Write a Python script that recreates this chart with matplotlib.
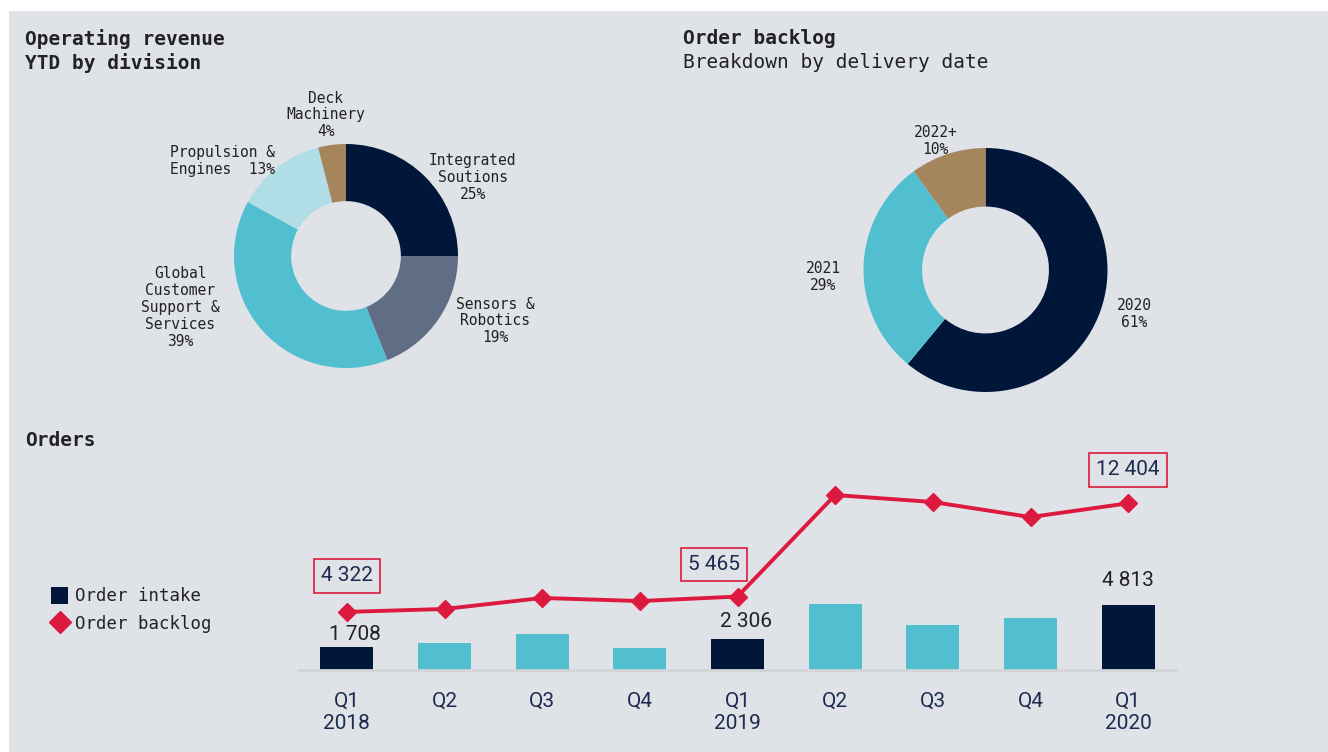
import matplotlib
matplotlib.use('Agg')
import matplotlib.pyplot as plt
from matplotlib.patches import Rectangle, Patch
from matplotlib.lines import Line2D

# ---------------------------------------------------------------------------
# Data
# ---------------------------------------------------------------------------
division_labels = ['Integrated\nSoutions\n25%', 'Sensors &\nRobotics\n19%',
                   'Global\nCustomer\nSupport &\nServices\n39%',
                   'Propulsion &\nEngines  13%', 'Deck\nMachinery\n4%']
division_share = [25, 19, 39, 13, 4]

delivery_labels = ['2020\n61%', '2021\n29%', '2022+\n10%']
delivery_share = [61, 29, 10]

quarters = ['Q1\n2018', 'Q2', 'Q3', 'Q4', 'Q1\n2019', 'Q2', 'Q3', 'Q4', 'Q1\n2020']
order_intake = [1708, 2010, 2680, 1650, 2306, 4910, 3350, 3870, 4813]
order_backlog = [4322, 4540, 5360, 5130, 5465, 13020, 12500, 11380, 12404]
intake_labels = {0: '1 708', 4: '2 306', 8: '4 813'}
backlog_labels = {0: '4 322', 4: '5 465', 8: '12 404'}

# ---------------------------------------------------------------------------
# Style
# ---------------------------------------------------------------------------
BG = '#dfe2e6'
NAVY = '#00173a'
SLATE = '#5f6e85'
CYAN = '#51bfd0'
LIGHT = '#b0dde6'
TAN = '#a5855c'
RED = '#dc1a3f'
TXT = '#222222'
TICK = '#1c2b4f'
MONO = ['DejaVu Sans Mono']
NARROW = ['Liberation Sans Narrow', 'Roboto']

W, H = 1328, 752


def px_axes(fig, left, top, width, height):
    """Add axes given pixel box measured from the top-left corner."""
    return fig.add_axes([left / W, 1 - (top + height) / H, width / W, height / H])


fig = plt.figure(figsize=(W / 100, H / 100), dpi=100, facecolor='white')
fig.patches.append(Rectangle((9 / W, 0), 1, 1 - 11 / H, transform=fig.transFigure,
                             facecolor=BG, edgecolor='none', zorder=-10))

# Titles
fig.text(25 / W, 1 - 51 / H, 'Operating revenue\nYTD by division', family=MONO,
         fontsize=14, fontweight='bold', color=TXT, va='center', ha='left',
         linespacing=1.3)
fig.text(683 / W, 1 - 38 / H, 'Order backlog', family=MONO, fontsize=14,
         fontweight='bold', color=TXT, va='center', ha='left')
fig.text(683 / W, 1 - 63 / H, 'Breakdown by delivery date', family=MONO,
         fontsize=14, color=TXT, va='center', ha='left')
fig.text(25 / W, 1 - 440 / H, 'Orders', family=MONO, fontsize=14,
         fontweight='bold', color=TXT, va='center', ha='left')

# ---------------------------------------------------------------------------
# Donut 1: revenue by division
# ---------------------------------------------------------------------------
ax1 = px_axes(fig, 346 - 112, 256 - 112, 224, 224)
ax1.pie(division_share, colors=[NAVY, SLATE, CYAN, LIGHT, TAN], startangle=90,
        counterclock=False, radius=1, wedgeprops=dict(width=0.51, edgecolor='none'))
ax1.set_xlim(-1, 1)
ax1.set_ylim(-1, 1)
ax1.axis('off')
div_label_pos = [(1.13, 0.70), (1.33, -0.58), (-1.48, -0.46), (-1.10, 0.85), (-0.18, 1.26)]
for lab, (x, y) in zip(division_labels, div_label_pos):
    ax1.text(x, y, lab, ha='center', va='center', family=MONO, fontsize=10.5,
             color=TXT, linespacing=1.15)

# ---------------------------------------------------------------------------
# Donut 2: backlog by delivery date
# ---------------------------------------------------------------------------
ax2 = px_axes(fig, 985.5 - 122, 270 - 122, 244, 244)
ax2.pie(delivery_share, colors=[NAVY, CYAN, TAN], startangle=90,
        counterclock=False, radius=1, wedgeprops=dict(width=0.48, edgecolor='none'))
ax2.set_xlim(-1, 1)
ax2.set_ylim(-1, 1)
ax2.axis('off')
del_label_pos = [(1.22, -0.36), (-1.33, -0.06), (-0.41, 1.06)]
for lab, (x, y) in zip(delivery_labels, del_label_pos):
    ax2.text(x, y, lab, ha='center', va='center', family=MONO, fontsize=10.5,
             color=TXT, linespacing=1.15)

# ---------------------------------------------------------------------------
# Orders: bars + backlog line
# ---------------------------------------------------------------------------
ax3 = px_axes(fig, 298, 450, 879, 220)
ax3.set_facecolor('none')
xs = list(range(len(quarters)))
bar_colors = [NAVY if q.startswith('Q1') else CYAN for q in quarters]
bars = ax3.bar(xs, order_intake, width=0.54, color=bar_colors, zorder=2)
ax3.plot(xs, order_backlog, color=RED, lw=2.8, marker='D', markersize=9,
         zorder=3, solid_joinstyle='round')
ax3.set_xlim(-0.5, 8.5)
ax3.set_ylim(0, 16370)
for s in ['top', 'right', 'left']:
    ax3.spines[s].set_visible(False)
ax3.spines['bottom'].set_color('#d2d4d8')
ax3.spines['bottom'].set_linewidth(2)
ax3.set_yticks([])
ax3.set_xticks(xs)
ax3.set_xticklabels(quarters, family=NARROW, fontsize=15, color=TICK,
                    linespacing=1.2)
ax3.tick_params(axis='x', length=0, pad=16)

intake_offsets = {0: (6, 2), 4: (6, 6), 8: (0, 11)}
for i, lab in intake_labels.items():
    ax3.annotate(lab, (xs[i], order_intake[i]), xytext=intake_offsets[i],
                 textcoords='offset points', ha='center', va='bottom',
                 family=NARROW, fontsize=15, color=TXT)

backlog_offsets = {0: (0, 26), 4: (-17, 23), 8: (0, 24)}
for i, lab in backlog_labels.items():
    ax3.annotate(lab, (xs[i], order_backlog[i]), xytext=backlog_offsets[i],
                 textcoords='offset points', ha='center', va='center',
                 family=NARROW, fontsize=15, color=TICK,
                 bbox=dict(boxstyle='square,pad=0.35', facecolor='none',
                           edgecolor=RED, linewidth=1.2))

# Legend
handles = [Patch(facecolor=NAVY, edgecolor='none'),
           Line2D([], [], color=RED, marker='D', markersize=11, linestyle='none')]
fig.legend(handles, ['Order intake', 'Order backlog'], loc='upper left',
           bbox_to_anchor=(44 / W, 1 - 580 / H), frameon=False,
           prop=dict(family=MONO, size=12.5), handlelength=1.0,
           handleheight=1.1, handletextpad=0.4, labelspacing=0.55,
           borderaxespad=0, labelcolor=TXT)

fig.savefig('out.png', dpi=100, facecolor='white')
